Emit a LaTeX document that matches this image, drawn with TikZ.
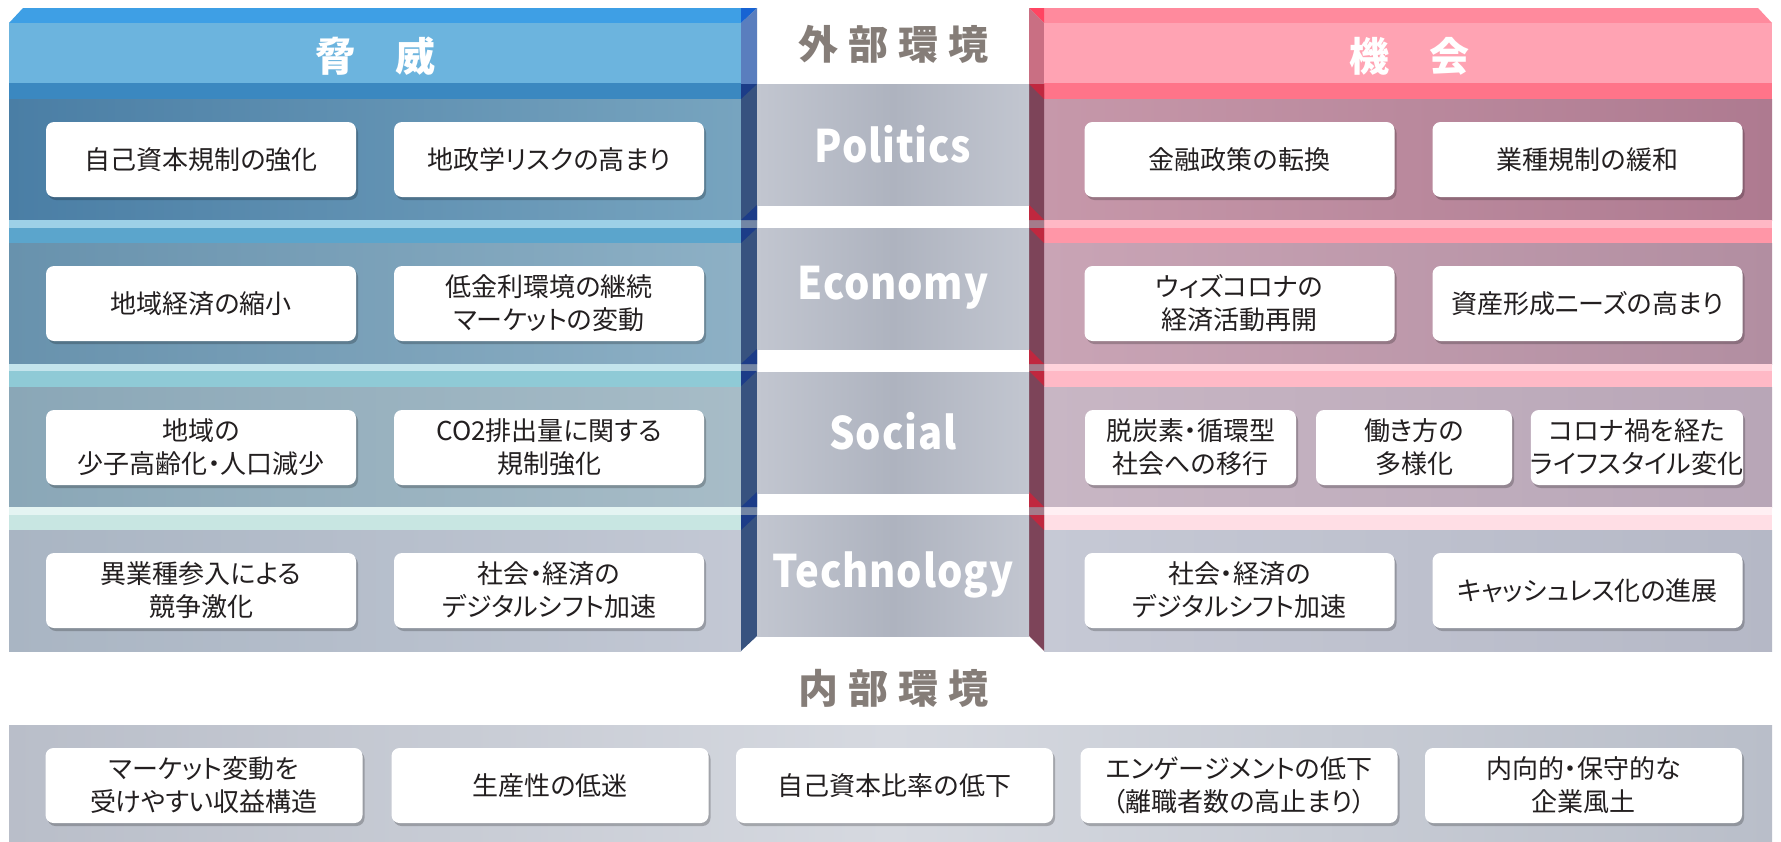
\documentclass[tikz,border=0pt]{standalone}
\usepackage{fontspec}
\newfontfamily\jpbox[RawFeature={+palt}]{Noto Sans CJK JP}
\newfontfamily\jphead{Noto Sans CJK JP}
\newfontfamily\pestfont[LetterSpace=2]{Noto Sans CJK JP}
\usetikzlibrary{shadows}
\definecolor{txt}{HTML}{231F20}
\definecolor{ttl}{HTML}{857D78}
% blue panel
\definecolor{bTop}{HTML}{3E9FE5}
\definecolor{bTopTri}{HTML}{1763D3}
\definecolor{bHead}{HTML}{6CB4DE}
\definecolor{bHeadSide}{HTML}{5A7EBE}
\definecolor{bBand0}{HTML}{3B88C0}
\definecolor{bSide}{HTML}{37527F}
\definecolor{bTri}{HTML}{1C3C88}
\definecolor{bR1a}{HTML}{4A7EA5}\definecolor{bR1b}{HTML}{77A4BF}
\definecolor{bS1}{HTML}{9DD0E7}\definecolor{bB1}{HTML}{5BA5CC}
\definecolor{bR2a}{HTML}{6892AD}\definecolor{bR2b}{HTML}{8DB0C5}
\definecolor{bS2}{HTML}{C3E4EC}\definecolor{bB2}{HTML}{8FCAD6}
\definecolor{bR3a}{HTML}{8AA7B7}\definecolor{bR3b}{HTML}{A7BCC7}
\definecolor{bS3}{HTML}{E4F4F2}\definecolor{bB3}{HTML}{C8E6E2}
\definecolor{bR4a}{HTML}{A9B5C3}\definecolor{bR4b}{HTML}{C3C8D4}
% red panel
\definecolor{rTop}{HTML}{FF8A9D}
\definecolor{rTopTri}{HTML}{FF4562}
\definecolor{rHead}{HTML}{FFA3B3}
\definecolor{rHeadSide}{HTML}{C96F83}
\definecolor{rBand0}{HTML}{FF7489}
\definecolor{rSide}{HTML}{7D4459}
\definecolor{rTri}{HTML}{C0283F}
\definecolor{rR1a}{HTML}{C698AA}\definecolor{rR1b}{HTML}{AE7A90}
\definecolor{rS1}{HTML}{FFB8C5}\definecolor{rB1}{HTML}{FF96A7}
\definecolor{rR2a}{HTML}{C9A4B5}\definecolor{rR2b}{HTML}{B28EA1}
\definecolor{rS2}{HTML}{FFD2DB}\definecolor{rB2}{HTML}{FFB9C6}
\definecolor{rR3a}{HTML}{C8B6C4}\definecolor{rR3b}{HTML}{B8A6B7}
\definecolor{rS3}{HTML}{FFEFF3}\definecolor{rB3}{HTML}{FFDEE5}
\definecolor{rR4a}{HTML}{C6C9D5}\definecolor{rR4b}{HTML}{B5B8C6}
% gray
\definecolor{cg1}{HTML}{C2C6D0}
\definecolor{cg2}{HTML}{AEB3BF}
\definecolor{bg1}{HTML}{B9BEC9}
\definecolor{bg2}{HTML}{D6D9E0}
\begin{document}
\begin{tikzpicture}[x=0.5pt,y=-0.5pt,
  box/.style={fill=white, rounded corners=4pt, minimum height=37.5pt, inner sep=0pt,
    align=center, text=txt, font=\jpbox\fontsize{13pt}{16.5pt}\selectfont,
    drop shadow={shadow xshift=1pt, shadow yshift=-1.5pt, opacity=0.22, fill=black}},
  wide/.style={box, minimum width=155pt},
  lowbox/.style={box, minimum width=158.5pt},
  pestlabel/.style={text=white, yscale=1.12, font=\pestfont\bfseries\fontsize{20pt}{20pt}\selectfont},
  headlabel/.style={text=white, font=\jphead\bfseries\fontsize{20pt}{20pt}\selectfont},
  envtitle/.style={text=ttl, font=\jphead\bfseries\fontsize{20pt}{20pt}\selectfont}
]
\useasboundingbox (0,0) rectangle (1781,841);
\fill[white] (0,0) rectangle (1781,841);

% ================= BLUE PANEL =================
\fill[bTop] (9,23) -- (23,8) -- (757,8) -- (741,23) -- cycle;
\fill[bTopTri] (741,8) -- (757,8) -- (741,23) -- cycle;
\fill[bHeadSide] (741,23) -- (757,8) -- (757,84) -- (741,84) -- cycle;
\fill[bHead] (9,23) rectangle (741,83);
\fill[bBand0] (9,83) rectangle (741,99);
\shade[left color=bR1a, right color=bR1b] (9,99) rectangle (741,220);
\fill[bS1] (9,220) rectangle (741,228);
\fill[bB1] (9,228) rectangle (741,243);
\shade[left color=bR2a, right color=bR2b] (9,243) rectangle (741,364);
\fill[bS2] (9,364) rectangle (741,371);
\fill[bB2] (9,371) rectangle (741,387);
\shade[left color=bR3a, right color=bR3b] (9,387) rectangle (741,507);
\fill[bS3] (9,507) rectangle (741,515);
\fill[bB3] (9,515) rectangle (741,530);
\shade[left color=bR4a, right color=bR4b] (9,530) rectangle (741,651);
% blue side bevel
\fill[bSide] (741,84) -- (757,84) -- (757,636) -- (741,651) -- cycle;
\foreach \yb in {220,364,507}{
  \fill[white, opacity=0.3] (741,\yb) rectangle (757,{\yb+8});
  \fill[bTri] (757,{\yb-15}) -- (757,\yb) -- (741,\yb) -- cycle;
}
\foreach \yt in {84,228,371,515}{
  \fill[bTri] (741,\yt) -- (757,\yt) -- (741,{\yt+15}) -- cycle;
}

% ================= RED PANEL =================
\fill[rTop] (1029,8) -- (1758,8) -- (1772,23) -- (1044,23) -- cycle;
\fill[rTopTri] (1029,8) -- (1044,8) -- (1044,23) -- cycle;
\fill[rHeadSide] (1029,8) -- (1044,23) -- (1044,84) -- (1029,84) -- cycle;
\fill[rHead] (1044,23) rectangle (1772,83);
\fill[rBand0] (1044,83) rectangle (1772,99);
\shade[left color=rR1a, right color=rR1b] (1044,99) rectangle (1772,220);
\fill[rS1] (1044,220) rectangle (1772,228);
\fill[rB1] (1044,228) rectangle (1772,243);
\shade[left color=rR2a, right color=rR2b] (1044,243) rectangle (1772,364);
\fill[rS2] (1044,364) rectangle (1772,371);
\fill[rB2] (1044,371) rectangle (1772,387);
\shade[left color=rR3a, right color=rR3b] (1044,387) rectangle (1772,507);
\fill[rS3] (1044,507) rectangle (1772,515);
\fill[rB3] (1044,515) rectangle (1772,530);
\shade[left color=rR4a, right color=rR4b] (1044,530) rectangle (1772,651);
% red side bevel
\fill[rSide] (1029,84) -- (1044,84) -- (1044,651) -- (1029,636) -- cycle;
\foreach \yb in {220,364,507}{
  \fill[white, opacity=0.3] (1029,\yb) rectangle (1044,{\yb+8});
  \fill[rTri] (1029,{\yb-15}) -- (1029,\yb) -- (1044,\yb) -- cycle;
}
\foreach \yt in {84,228,371,515}{
  \fill[rTri] (1029,\yt) -- (1044,\yt) -- (1044,{\yt+15}) -- cycle;
}

% ================= CENTER COLUMN =================
\foreach \yt in {84,228,372,515}{
  \shade[left color=cg1, right color=cg1, middle color=cg2] (757,\yt) rectangle (1029,{\yt+121});
}
\node[envtitle] (gaibu) at (893,44) {外\hspace{5pt}部\hspace{5pt}環\hspace{5pt}境};
\node[pestlabel] (politics) at (893,144) {Politics};
\node[pestlabel] (economy) at (893,288) {Economy};
\node[pestlabel] (social) at (893,431) {Social};
\node[pestlabel] (technology) at (893,575) {Technology};

% ================= HEADERS =================
\node[headlabel] (kyoui) at (375,56) {脅　威};
\node[headlabel] (kikai) at (1409,56) {機　会};

% ================= THREAT BOXES =================
\node[wide] (t11) at (201,159.5) {自己資本規制の強化};
\node[wide] (t12) at (549,159.5) {地政学リスクの高まり};
\node[wide] (t21) at (201,303.5) {地域経済の縮小};
\node[wide] (t22) at (549,303.5) {低金利環境の継続\\マーケットの変動};
\node[wide] (t31) at (201,447.5) {地域の\\少子高齢化・人口減少};
\node[wide] (t32) at (549,447.5) {CO2排出量に関する\\規制強化};
\node[wide] (t41) at (201,590.5) {異業種参入による\\競争激化};
\node[wide] (t42) at (549,590.5) {社会・経済の\\デジタルシフト加速};

% ================= OPPORTUNITY BOXES =================
\node[wide] (o11) at (1239.5,159.5) {金融政策の転換};
\node[wide] (o12) at (1587.5,159.5) {業種規制の緩和};
\node[wide] (o21) at (1239.5,303.5) {ウィズコロナの\\経済活動再開};
\node[wide] (o22) at (1587.5,303.5) {資産形成ニーズの高まり};
\node[box, minimum width=105.5pt] (o31) at (1190.5,447.5) {脱炭素・循環型\\社会への移行};
\node[box, minimum width=98pt] (o32) at (1414,447.5) {働き方の\\多様化};
\node[box, minimum width=106pt] (o33) at (1637,447.5) {コロナ禍を経た\\ライフスタイル変化};
\node[wide] (o41) at (1239.5,590.5) {社会・経済の\\デジタルシフト加速};
\node[wide] (o42) at (1587.5,590.5) {キャッシュレス化の進展};

% ================= INTERNAL =================
\node[envtitle] (naibu) at (893,688) {内\hspace{5pt}部\hspace{5pt}環\hspace{5pt}境};
\shade[left color=bg1, right color=bg1, middle color=bg2] (9,725) rectangle (1772,841);
\node[lowbox] (w1) at (204,785.5) {マーケット変動を\\受けやすい収益構造};
\node[lowbox] (w2) at (550,785.5) {生産性の低迷};
\node[lowbox] (w3) at (894.5,785.5) {自己資本比率の低下};
\node[lowbox] (w4) at (1239,785.5) {エンゲージメントの低下\\（離職者数の高止まり）};
\node[lowbox] (w5) at (1583.5,785.5) {内向的・保守的な\\企業風土};
\end{tikzpicture}
\end{document}
